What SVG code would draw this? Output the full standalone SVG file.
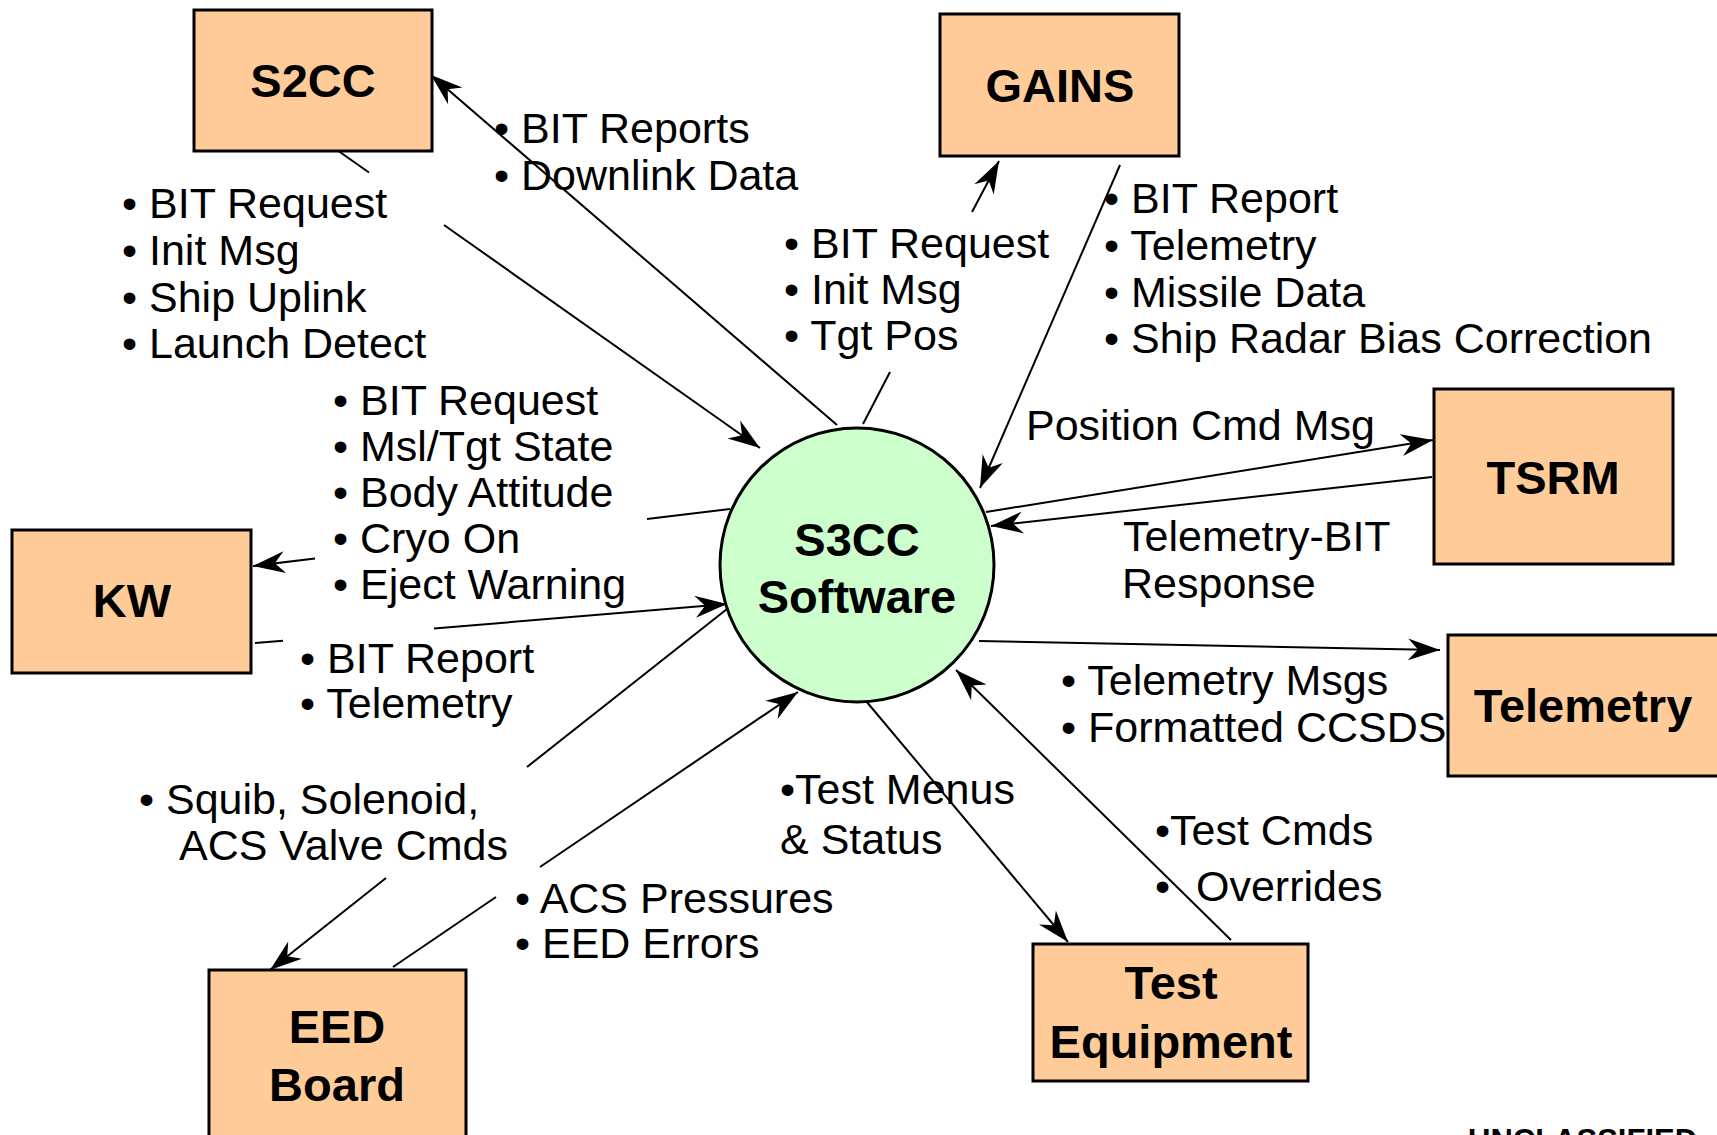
<svg xmlns="http://www.w3.org/2000/svg" width="1717" height="1135" viewBox="0 0 1717 1135">
  <style>
    .box { fill: #ffcc99; stroke: #000; stroke-width: 3; }
    .hub { fill: #ccffcc; stroke: #000; stroke-width: 3; }
    .name { font-family: "Liberation Sans", Arial, sans-serif; font-weight: bold; font-size: 47px; text-anchor: middle; fill: #000; }
    .lbl { font-family: "Liberation Sans", Arial, sans-serif; font-size: 43px; fill: #000; }
    .wire { fill: none; stroke: #000; stroke-width: 2; }
    .mark { font-family: "Liberation Sans", Arial, sans-serif; font-weight: bold; font-size: 31px; fill: #000; }
  </style>
  <defs>
    <marker id="arrow" markerUnits="userSpaceOnUse" viewBox="-34 -14 36 28" refX="0" refY="0" markerWidth="36" markerHeight="28" orient="auto">
      <path d="M0,0 L-32,-11 L-22,0 L-32,11 Z" fill="#000"/>
    </marker>
  </defs>
  <rect width="1717" height="1135" fill="#fff"/>

  <!-- connectors -->
  <g id="connectors">
    <path class="wire" d="M337,150 L369,172.5 M444,225 L760,448" marker-end="url(#arrow)"/>
    <path class="wire" d="M837,425 L431,75" marker-end="url(#arrow)"/>
    <path class="wire" d="M863,424 L890,372 M972,212 L999,161" marker-end="url(#arrow)"/>
    <path class="wire" d="M1120,165 L980,488" marker-end="url(#arrow)"/>
    <path class="wire" d="M986,512 L1433,440" marker-end="url(#arrow)"/>
    <path class="wire" d="M1432,477 L991,526" marker-end="url(#arrow)"/>
    <path class="wire" d="M730,509 L647,519 M315,558.5 L253,566" marker-end="url(#arrow)"/>
    <path class="wire" d="M255,643 L283,640.7 M434,628.5 L727,604" marker-end="url(#arrow)"/>
    <path class="wire" d="M727,609 L527,767 M386,878 L270,970" marker-end="url(#arrow)"/>
    <path class="wire" d="M393,967 L496,897 M540,867 L798,692" marker-end="url(#arrow)"/>
    <path class="wire" d="M979,641 L1440,650" marker-end="url(#arrow)"/>
    <path class="wire" d="M866,701 L1068,942" marker-end="url(#arrow)"/>
    <path class="wire" d="M1231,940 L956,670" marker-end="url(#arrow)"/>
  </g>

  <!-- flow labels -->
  <g id="labels" class="lbl">
    <text x="122" y="218">• BIT Request</text>
    <text x="122" y="265">• Init Msg</text>
    <text x="122" y="312">• Ship Uplink</text>
    <text x="122" y="358">• Launch Detect</text>

    <text x="494" y="143">• BIT Reports</text>
    <text x="494" y="190">• Downlink Data</text>

    <text x="784" y="258">• BIT Request</text>
    <text x="784" y="304">• Init Msg</text>
    <text x="784" y="350">• Tgt Pos</text>

    <text x="1104" y="213">• BIT Report</text>
    <text x="1104" y="260">• Telemetry</text>
    <text x="1104" y="307">• Missile Data</text>
    <text x="1104" y="353">• Ship Radar Bias Correction</text>

    <text x="1026" y="440">Position Cmd Msg</text>
    <text x="1123" y="551">Telemetry-BIT</text>
    <text x="1122" y="598">Response</text>

    <text x="333" y="415">• BIT Request</text>
    <text x="333" y="461">• Msl/Tgt State</text>
    <text x="333" y="507">• Body Attitude</text>
    <text x="333" y="553">• Cryo On</text>
    <text x="333" y="599">• Eject Warning</text>

    <text x="300" y="673">• BIT Report</text>
    <text x="300" y="718">• Telemetry</text>

    <text x="139" y="814">• Squib, Solenoid,</text>
    <text x="179" y="860">ACS Valve Cmds</text>

    <text x="515" y="913">• ACS Pressures</text>
    <text x="515" y="958">• EED Errors</text>

    <text x="1061" y="695">• Telemetry Msgs</text>
    <text x="1061" y="742">• Formatted CCSDS</text>

    <text x="780" y="804">•Test Menus</text>
    <text x="780" y="854">&amp; Status</text>

    <text x="1155" y="845">•Test Cmds</text>
    <text x="1155" y="901">•<tspan x="1196">Overrides</tspan></text>
  </g>

  <!-- nodes -->
  <g id="node-s3cc">
    <circle class="hub" cx="857" cy="565" r="137"/>
    <text class="name" x="857" y="556">S3CC</text>
    <text class="name" x="857" y="613">Software</text>
  </g>
  <g id="node-s2cc">
    <rect class="box" x="194" y="10" width="238" height="141"/>
    <text class="name" x="313" y="97">S2CC</text>
  </g>
  <g id="node-gains">
    <rect class="box" x="940" y="14" width="239" height="142"/>
    <text class="name" x="1060" y="102">GAINS</text>
  </g>
  <g id="node-tsrm">
    <rect class="box" x="1434" y="389" width="239" height="175"/>
    <text class="name" x="1553" y="494">TSRM</text>
  </g>
  <g id="node-telemetry">
    <rect class="box" x="1448" y="635" width="275" height="141"/>
    <text class="name" x="1583" y="722">Telemetry</text>
  </g>
  <g id="node-kw">
    <rect class="box" x="12" y="530" width="239" height="143"/>
    <text class="name" x="132" y="617">KW</text>
  </g>
  <g id="node-eed">
    <rect class="box" x="209" y="970" width="257" height="180"/>
    <text class="name" x="337" y="1043">EED</text>
    <text class="name" x="337" y="1101">Board</text>
  </g>
  <g id="node-test">
    <rect class="box" x="1033" y="944" width="275" height="137"/>
    <text class="name" x="1171" y="999">Test</text>
    <text class="name" x="1171" y="1058">Equipment</text>
  </g>

  <text class="mark" x="1468" y="1151">UNCLASSIFIED</text>
</svg>
